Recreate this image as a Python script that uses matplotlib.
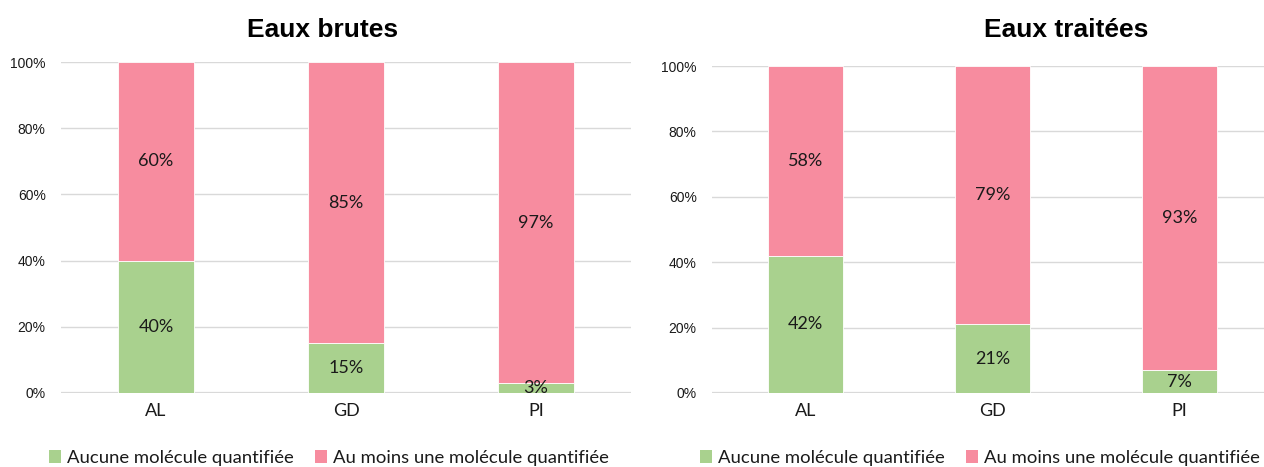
import matplotlib
matplotlib.use("Agg")
import matplotlib.pyplot as plt
from matplotlib.patches import Patch
from matplotlib.ticker import PercentFormatter

# données
SITES = ["AL", "GD", "PI"]
BRUTES_AUCUNE = [40, 15, 3]
BRUTES_AU_MOINS = [60, 85, 97]
TRAITEES_AUCUNE = [42, 21, 7]
TRAITEES_AU_MOINS = [58, 79, 93]
TITRES = ["Eaux brutes", "Eaux traitées"]
LEGENDE = ["Aucune molécule quantifiée", "Au moins une molécule quantifiée"]

GREEN = "#A9D18E"
PINK = "#F78C9F"
GRID = "#D9D9D9"
TEXT = "#1A1A1A"
BODY_FONT = "Lato"
TICK_FONT = "Liberation Sans"

W, H = 1264, 467


def px_box(x0, x1, y_top, y_bot):
    return [x0 / W, 1 - y_bot / H, (x1 - x0) / W, (y_bot - y_top) / H]


def draw_panel(ax, aucune, au_moins, bar_width):
    x = range(len(SITES))
    ax.bar(x, aucune, width=bar_width, color=GREEN, edgecolor="white", linewidth=0.6, zorder=2)
    ax.bar(x, au_moins, width=bar_width, bottom=aucune, color=PINK,
           edgecolor="white", linewidth=0.6, zorder=2)

    for i, (a, b) in enumerate(zip(aucune, au_moins)):
        ax.text(i, a / 2, f"{a}%", ha="center", va="center", fontsize=13,
                family=BODY_FONT, color=TEXT, zorder=3)
        ax.text(i, a + b / 2, f"{b}%", ha="center", va="center", fontsize=13,
                family=BODY_FONT, color=TEXT, zorder=3)

    ax.set_xlim(-0.5, 2.5)
    ax.set_ylim(0, 100)
    ax.set_yticks(range(0, 101, 20))
    ax.yaxis.set_major_formatter(PercentFormatter(decimals=0))
    ax.set_xticks(list(x))
    ax.set_xticklabels(SITES, family=BODY_FONT, fontsize=13, color=TEXT)
    for lab in ax.get_yticklabels():
        lab.set_family(TICK_FONT)
        lab.set_fontsize(10)
        lab.set_color(TEXT)
    ax.tick_params(axis="both", length=0)
    ax.tick_params(axis="y", pad=11)
    ax.tick_params(axis="x", pad=7)
    ax.grid(axis="y", color=GRID, linewidth=1.0, zorder=0)
    ax.axhline(0, color=GRID, linewidth=1.6, zorder=1)
    for s in ax.spines.values():
        s.set_visible(False)


fig = plt.figure(figsize=(W / 100, H / 100), dpi=100)

ax1 = fig.add_axes(px_box(61, 631, 62, 393))
draw_panel(ax1, BRUTES_AUCUNE, BRUTES_AU_MOINS, 0.395)

ax2 = fig.add_axes(px_box(712, 1273, 66, 393))
draw_panel(ax2, TRAITEES_AUCUNE, TRAITEES_AU_MOINS, 0.40)

fig.text(323 / W, 1 - 37 / H, TITRES[0], ha="center", va="baseline",
         fontsize=19, fontweight="bold", family=TICK_FONT, color="black")
fig.text(1066 / W, 1 - 37 / H, TITRES[1], ha="center", va="baseline",
         fontsize=19, fontweight="bold", family=TICK_FONT, color="black")

handles = [Patch(facecolor=GREEN, edgecolor="none"), Patch(facecolor=PINK, edgecolor="none")]
for x0 in (49, 700):
    fig.legend(handles, LEGENDE, loc="center left", bbox_to_anchor=(x0 / W, 1 - 458 / H),
               ncol=2, frameon=False, borderpad=0, borderaxespad=0,
               handlelength=0.65, handleheight=0.65, handletextpad=0.3,
               columnspacing=1.2, prop={"family": BODY_FONT, "size": 13.3},
               labelcolor=TEXT)

fig.savefig("out.png", dpi=100)
